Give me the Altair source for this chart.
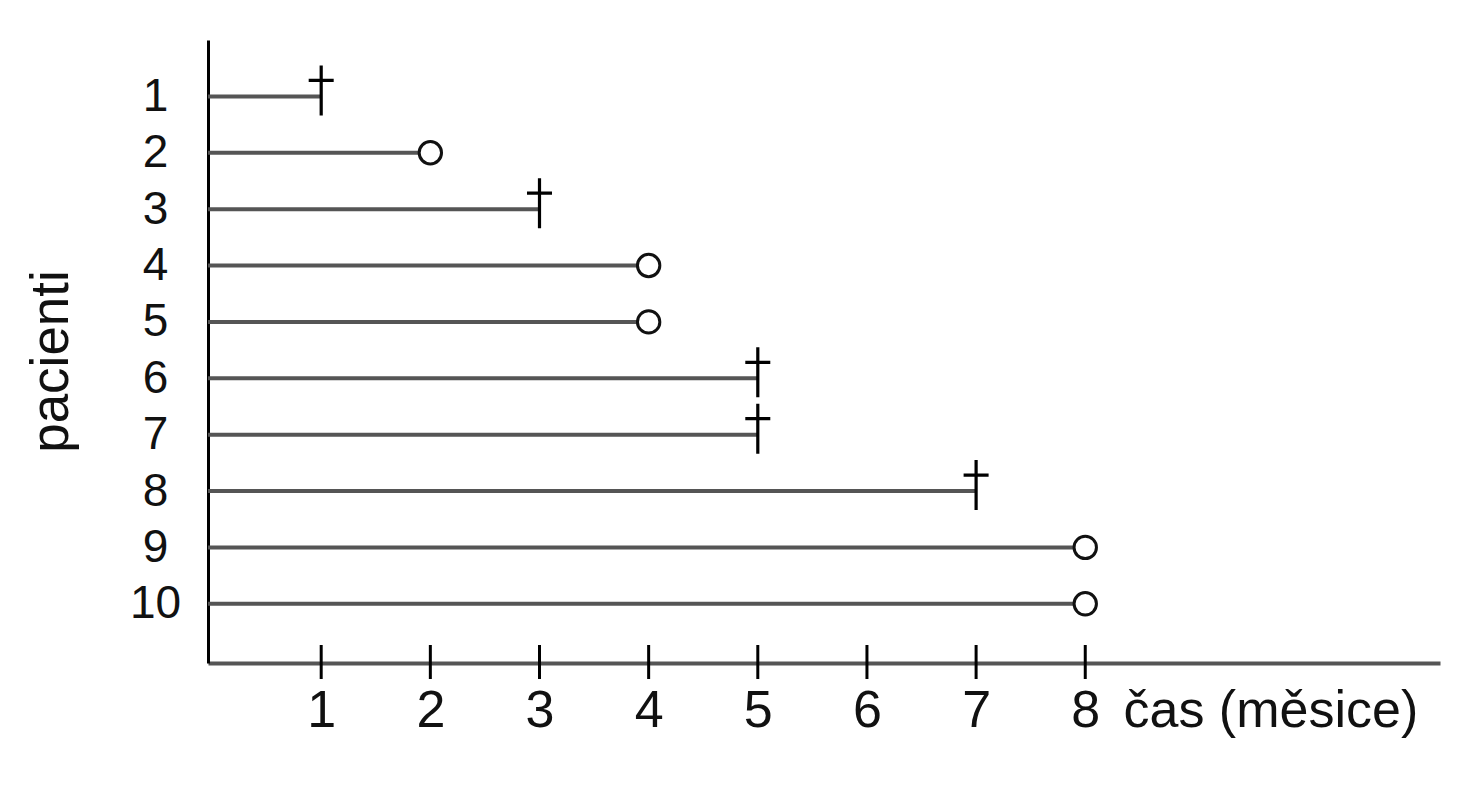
import altair as alt
import pandas as pd

# ---- data ----
patients = [1, 2, 3, 4, 5, 6, 7, 8, 9, 10]
times = [1, 2, 3, 4, 4, 5, 5, 7, 8, 8]
outcome = ["úmrtí", "cenzura", "úmrtí", "cenzura", "cenzura",
           "úmrtí", "úmrtí", "úmrtí", "cenzura", "cenzura"]
x_ticks = [1, 2, 3, 4, 5, 6, 7, 8]
y_ticks = [1, 2, 3, 4, 5, 6, 7, 8, 9, 10]
x_title = "čas (měsice)"
y_title = "pacienti"

df = pd.DataFrame({"patient": patients, "time": times, "outcome": outcome})
ticks_df = pd.DataFrame({"time": x_ticks})

FONT = "Liberation Sans"

xscale = alt.Scale(domain=[-0.037, 11.25], nice=False, zero=False)
yscale = alt.Scale(domain=[0, 11.05], nice=False, zero=False, reverse=True)

xaxis = alt.Axis(
    values=x_ticks, format="d", grid=False, ticks=False, tickSize=0,
    labelFont=FONT, labelFontSize=52, labelColor="#111",
    labelBaseline="alphabetic", labelPadding=63, labelFlush=False,
    domainColor="#555", domainWidth=4,
    title=x_title, titleFont=FONT, titleFontSize=52, titleFontWeight="normal",
    titleColor="#111", titleAlign="left", titleBaseline="alphabetic",
    titleX=915, titleY=63, titleAnchor="start",
)
yaxis = alt.Axis(
    values=y_ticks, format="d", grid=False, ticks=False, tickSize=0,
    labelFont=FONT, labelFontSize=46, labelColor="#111",
    labelAlign="center", labelBaseline="middle", labelPadding=53,
    labelFlush=False,
    domainColor="#000", domainWidth=3,
    title=y_title, titleFont=FONT, titleFontSize=53, titleFontWeight="normal",
    titleColor="#111", titleAngle=270, titleAlign="center",
    titleBaseline="alphabetic", titleX=-141, titleY=321,
)

xenc = alt.X("time:Q", scale=xscale, axis=xaxis)
yenc = alt.Y("patient:Q", scale=yscale, axis=yaxis)

base = alt.Chart(df)

lines = base.mark_rule(color="#555", strokeWidth=4).encode(
    x=xenc, x2=alt.value(0), y=yenc
)

circles = base.transform_filter(alt.datum.outcome == "cenzura").mark_point(
    shape="circle", size=500, filled=True, fill="white", fillOpacity=1,
    stroke="#111", strokeWidth=3, opacity=1
).encode(x=xenc, y=yenc)

cross_path = "M0,-1.24L0,0.76M-0.5,-0.64L0.5,-0.64"
crosses = base.transform_filter(alt.datum.outcome == "úmrtí").mark_point(
    shape=cross_path, size=2500, filled=False, stroke="#000",
    strokeWidth=3.2, opacity=1
).encode(x=xenc, y=yenc)

tick_marks = alt.Chart(ticks_df).mark_rule(color="#000", strokeWidth=3).encode(
    x=xenc, y=alt.value(605), y2=alt.value(639)
)

chart = alt.layer(lines, circles, crosses, tick_marks).properties(
    width=1232, height=623,
    background="white",
    autosize=alt.AutoSizeParams(type="none"),
    padding={"left": 200, "top": 32, "right": 30, "bottom": 100},
).configure_view(strokeWidth=0, stroke="transparent")

chart.save("out.html", embed_options={"renderer": "svg", "actions": False})
